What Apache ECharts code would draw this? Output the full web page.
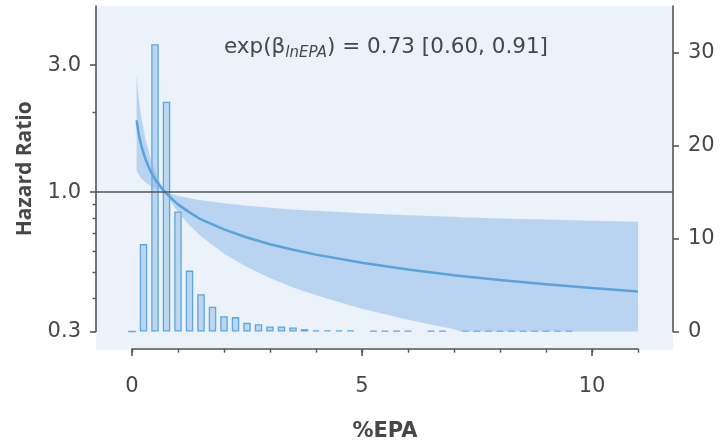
<!DOCTYPE html>
<html><head><meta charset="utf-8">
<script src="https://cdn.jsdelivr.net/npm/echarts@6/dist/echarts.min.js"></script>
<style>html,body{margin:0;padding:0;background:#fff}#c{width:721px;height:447px}</style>
</head><body><div id="c"></div>
<script>
// Histogram of %EPA (percent of subjects per bin), right axis
const binCenters = [0,0.25,0.5,0.75,1.0,1.25,1.5,1.75,2.0,2.25,2.5,2.75,3.0,3.25,3.5,3.75,4.0,4.25,4.5,4.75,5.0,5.25,5.5,5.75,6.0,6.25,6.5,6.75,7.0,7.25,7.5,7.75,8.0,8.25,8.5,8.75,9.0,9.25,9.5];
const binPercent = [0,9.4,30.9,24.7,12.9,6.55,4.0,2.66,1.65,1.55,0.93,0.79,0.54,0.54,0.43,0.25,0.12,0.12,0.12,0.12,null,0.08,0.08,0.08,0.08,null,0.08,0.08,null,0.08,0.08,0.08,0.08,0.08,0.08,0.08,0.08,0.08,0.08];
// Hazard ratio curve with confidence band, left (log) axis
const curveX     = [0.1,0.15,0.2,0.3,0.4,0.5,0.6,0.72,0.85,1.0,1.25,1.5,2.0,2.5,3.0,3.5,4.0,5.0,6.0,7.0,7.15,8.0,9.0,10.0,11.0];
const curveHR    = [1.86,1.64,1.50,1.32,1.20,1.12,1.06,1.00,0.95,0.90,0.84,0.79,0.725,0.676,0.638,0.608,0.583,0.543,0.513,0.488,0.485,0.468,0.451,0.437,0.424];
const curveUpper = [2.74,2.23,1.92,1.56,1.35,1.205,1.097,1.00,0.985,0.970,0.950,0.933,0.908,0.890,0.874,0.862,0.851,0.834,0.819,0.808,0.806,0.797,0.789,0.781,0.774];
const curveLower = [1.204,1.159,1.128,1.086,1.057,1.035,1.017,1.00,0.917,0.843,0.751,0.683,0.588,0.524,0.476,0.439,0.410,0.365,0.332,0.306,0.300,0.300,0.300,0.300,0.300];
// Ticks
const hrTicks = [0.3,1.0,3.0];
const hrMinorTicks = [0.4,0.5,0.6,0.7,0.8,0.9,2.0];
const hrAxisMin = 0.3, hrAxisMax = 5;
const countTicks = [0,10,20,30];
const countAxisMax = 35;
const epaTicks = [0,5,10];
const epaAxisMax = 11;
const refHR = 1.0;

const FONT = 'DejaVu Sans';
const FONT_V = 'Open Sans';
const TXT = '#474747';
const AX = '#555555';
const L = Math.log10;

const chart = echarts.init(document.getElementById('c'));
chart.setOption({
  animation: false,
  textStyle: {fontFamily: FONT},
  graphic: [{type:'rect', z:-10, shape:{x:96, y:6, width:577, height:344}, style:{fill:'#EBF2FA'}, silent:true}],
  title: {
    left: 219, top: 29,
    text: '{a|exp(β}{s|lnEPA}{a|) = 0.73 [0.60, 0.91]}',
    textStyle: {
      fontWeight: 'normal',
      rich: {
        a: {fontSize: 21.5, color: TXT, fontFamily: FONT, fontWeight: 'normal', lineHeight: 27},
        s: {fontSize: 15, color: TXT, fontFamily: FONT, fontWeight: 'normal', fontStyle: 'italic', lineHeight: 15, verticalAlign: 'bottom'}
      }
    }
  },
  grid: [
    {left: 96, right: 48, top: 6, bottom: 115.5},
    {left: 132, right: 83, top: 6, bottom: 96}
  ],
  xAxis: [
    {gridIndex: 0, type: 'value', min: -36/46, max: 11 + 35/46, show: false},
    {gridIndex: 1, type: 'value', position: 'bottom', min: 0, max: epaAxisMax, interval: 1,
      axisLine: {show: true, onZero: false, lineStyle: {color: AX, width: 1.6}},
      axisTick: {show: true, length: 7, customValues: epaTicks, lineStyle: {color: AX, width: 1.6}},
      axisLabel: {customValues: epaTicks, margin: 27, fontSize: 21, color: TXT, fontFamily: FONT},
      splitLine: {show: false},
      name: '%EPA', nameLocation: 'middle', nameGap: 72,
      nameTextStyle: {fontSize: 21, fontWeight: 'bold', color: TXT, fontFamily: FONT}
    },
    {gridIndex: 1, type: 'value', position: 'bottom', min: 0, max: epaAxisMax, interval: 1,
      axisLine: {show: false, onZero: false},
      axisTick: {show: true, length: 3.7, lineStyle: {color: AX, width: 1.4}},
      axisLabel: {show: false}, splitLine: {show: false}
    }
  ],
  yAxis: [
    {gridIndex: 0, type: 'value', position: 'left', min: L(hrAxisMin), max: L(hrAxisMax),
      axisLine: {show: true, onZero: false, lineStyle: {color: AX, width: 1.6}},
      axisTick: {show: true, length: 6, customValues: hrTicks.map(L), lineStyle: {color: AX, width: 1.6}},
      axisLabel: {customValues: hrTicks.map(L), margin: 15, fontSize: 21, color: TXT, fontFamily: FONT,
        formatter: v => Math.pow(10, v).toFixed(1)},
      splitLine: {show: false},
      name: 'Hazard Ratio', nameLocation: 'middle', nameGap: 60, nameRotate: 90,
      nameTextStyle: {fontSize: 21, fontWeight: 'bold', color: TXT, fontFamily: FONT_V}
    },
    {gridIndex: 0, type: 'value', position: 'right', min: 0, max: countAxisMax,
      axisLine: {show: true, onZero: false, lineStyle: {color: AX, width: 1.6}},
      axisTick: {show: true, length: 6, customValues: countTicks, lineStyle: {color: AX, width: 1.6}},
      axisLabel: {customValues: countTicks, margin: 15, fontSize: 21, color: TXT, fontFamily: FONT},
      splitLine: {show: false}
    },
    {gridIndex: 0, type: 'value', position: 'left', min: L(hrAxisMin), max: L(hrAxisMax),
      axisLine: {show: false, onZero: false},
      axisTick: {show: true, length: 3.5, customValues: hrMinorTicks.map(L), lineStyle: {color: AX, width: 1.4}},
      axisLabel: {show: false}, splitLine: {show: false}
    },
    {gridIndex: 1, type: 'value', min: 0, max: 1, show: false, axisLine: {onZero: false}}
  ],
  series: [
    {
      type: 'bar', xAxisIndex: 0, yAxisIndex: 1, barWidth: 7.5, z: 2,
      data: binCenters.map((x, i) => [x, binPercent[i]]).filter(d => d[1] !== null),
      itemStyle: {color: '#BCD6EF', borderColor: '#5EA6DD', borderWidth: 1.3}
    },
    {
      type: 'custom', xAxisIndex: 0, yAxisIndex: 0, z: 3,
      data: [[0, 0]],
      renderItem: function (params, api) {
        const pts = [];
        for (let i = 0; i < curveX.length; i++) pts.push(api.coord([curveX[i], L(curveUpper[i])]));
        for (let i = curveX.length - 1; i >= 0; i--) pts.push(api.coord([curveX[i], L(curveLower[i])]));
        return {type: 'polygon', shape: {points: pts}, style: {fill: 'rgba(140,185,232,0.52)'}};
      }
    },
    {
      type: 'line', xAxisIndex: 0, yAxisIndex: 0, z: 4,
      data: curveX.map((x, i) => [x, L(curveHR[i])]),
      smooth: false, showSymbol: false, symbol: 'none',
      lineStyle: {color: '#59A2DB', width: 2.5},
      markLine: {
        silent: true, symbol: 'none', label: {show: false}, z: 6,
        lineStyle: {color: AX, width: 1.6, type: 'solid'},
        data: [{yAxis: L(refHR)}]
      }
    }
  ]
});
</script>
</body></html>
